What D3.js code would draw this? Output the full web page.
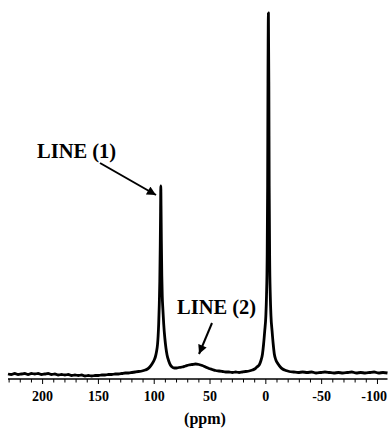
<!DOCTYPE html>
<html>
<head>
<meta charset="utf-8">
<script src="https://cdn.jsdelivr.net/npm/d3@7"></script>
<style>
  body { margin: 0; background: #fff; }
  svg { display: block; }
  text { font-family: "Liberation Serif", "Times New Roman", serif; font-weight: bold; fill: #000; }
</style>
</head>
<body>
<div id="chart"></div>
<script>
// chemical shift (ppm), high to low
const ppm = [
  231, 228, 225, 222, 219, 216, 213, 210, 207, 204, 201, 198, 195, 192, 189, 186, 183, 180,
  177, 174, 171, 168, 165, 162, 159, 156, 153, 150, 147, 144, 141, 138, 135, 132, 129, 126,
  123, 120, 117, 114, 111, 108, 106, 104, 102, 100, 99, 98, 97, 96.5, 96, 95.5, 95, 94.6,
  94.3, 94.1, 93.9, 93.6, 93.2, 92.8, 92.2, 91.5, 90.5, 89.5, 88.5, 87, 85.5, 84, 82, 80,
  78, 75, 72, 69, 66, 63, 60, 57, 54, 51, 48, 45, 42, 39, 36, 33, 30, 27, 24, 21, 18, 15,
  12, 10, 8, 6, 4.5, 3, 2, 1, 0, -0.6, -1.2, -1.6, -1.9, -2.3, -2.7, -3.0, -3.4, -4.0,
  -4.6, -5.6, -6.6, -7.6, -9, -11, -13, -15, -18, -21, -25, -29, -33, -37, -41, -45, -49,
  -53, -57, -61, -65, -69, -73, -77, -81, -85, -89, -93, -97, -101, -105, -109
];
// signal intensity (arbitrary units) at each shift
const intensity = [
  2, 1.5, 2.5, 1.5, 2, 2.5, 1.5, 2.5, 2, 2.5, 1.5, 2, 2.5, 1.5, 2, 1, 1.5, 1,
  1.5, 0.5, 1, 0.5, 1, 0, 0.5, 0, 0.5, 0.5, 1, 1, 1.5, 1.5, 2, 2, 2.5, 3,
  3, 3.5, 4, 4.5, 5, 6, 7, 9, 12, 16, 19, 24, 32, 40, 52, 70, 95, 130,
  165, 190, 170, 135, 100, 80, 66, 52, 38, 28, 21, 15, 11, 9, 8, 8,
  8.5, 9, 10, 11, 11.5, 12, 11.5, 10.5, 9, 7.5, 6.5, 5.5, 5, 4.5, 4, 4, 3.5, 4, 3.5, 4, 4.5, 5,
  6, 7, 9, 11, 15, 22, 32, 45, 60, 80, 120, 190, 290, 363, 290, 190, 120, 80,
  60, 45, 32, 22, 16, 12, 9, 7, 5.5, 4.5, 4, 3.5, 4, 3.5, 4, 3, 3.5,
  4, 3.5, 3, 3.5, 3, 3.5, 4, 3, 3.5, 3, 3.5, 4, 3, 3.5, 3
];
const tickLabels = [200, 150, 100, 50, 0, -50, -100];
const minorTicks = d3.range(230, -110, -10);

const width = 388, height = 430;

const svg = d3.select("#chart")
  .append("svg")
  .attr("width", width)
  .attr("height", height);

const x = d3.scaleLinear().domain([231, -109]).range([8, 387.5]);
const y = d3.scaleLinear().domain([0, 363]).range([376, 13]);
const axisY = 379;

// axis line + ticks
svg.append("line")
  .attr("x1", x(231)).attr("x2", x(-109))
  .attr("y1", axisY).attr("y2", axisY)
  .attr("stroke", "#000").attr("stroke-width", 1.5);

svg.append("g")
  .selectAll("line")
  .data(minorTicks)
  .enter()
  .append("line")
  .attr("x1", (d) => x(d)).attr("x2", (d) => x(d))
  .attr("y1", axisY)
  .attr("y2", (d) => axisY + (d % 50 === 0 ? 5 : 3.5))
  .attr("stroke", "#000").attr("stroke-width", 1);

// last label sits against the right edge, so anchor it there
svg.append("g")
  .selectAll("text")
  .data(tickLabels)
  .enter()
  .append("text")
  .attr("x", (d) => (d === -100 ? 387 : x(d)))
  .attr("y", 401)
  .attr("text-anchor", (d) => (d === -100 ? "end" : "middle"))
  .style("font-size", "14px")
  .text((d) => d);

svg.append("text")
  .attr("x", 205)
  .attr("y", 424)
  .attr("text-anchor", "middle")
  .style("font-size", "16px")
  .text("(ppm)");

// spectrum
const line = d3.line()
  .x((d) => x(d[0]))
  .y((d) => y(d[1]))
  .curve(d3.curveMonotoneX);

svg.append("path")
  .datum(ppm.map((p, i) => [p, intensity[i]]))
  .attr("d", line)
  .attr("fill", "none")
  .attr("stroke", "#000")
  .attr("stroke-width", 2.8)
  .attr("stroke-linejoin", "round");

// annotations
svg.append("defs").append("marker")
  .attr("id", "head")
  .attr("viewBox", "0 0 10 10")
  .attr("refX", 10).attr("refY", 5)
  .attr("markerWidth", 5).attr("markerHeight", 4.5)
  .attr("markerUnits", "strokeWidth")
  .attr("orient", "auto")
  .append("path")
  .attr("d", "M0,0L10,5L0,10z")
  .attr("fill", "#000");

const notes = [
  { label: "LINE (1)", tx: 37, ty: 158, from: [100, 163], to: [156, 195] },
  { label: "LINE (2)", tx: 177, ty: 314, from: [212, 323], to: [199, 354] }
];

notes.forEach((n) => {
  svg.append("text")
    .attr("x", n.tx).attr("y", n.ty)
    .style("font-size", "20.5px")
    .text(n.label);
  svg.append("line")
    .attr("x1", n.from[0]).attr("y1", n.from[1])
    .attr("x2", n.to[0]).attr("y2", n.to[1])
    .attr("stroke", "#000").attr("stroke-width", 2)
    .attr("marker-end", "url(#head)");
});
</script>
</body>
</html>
